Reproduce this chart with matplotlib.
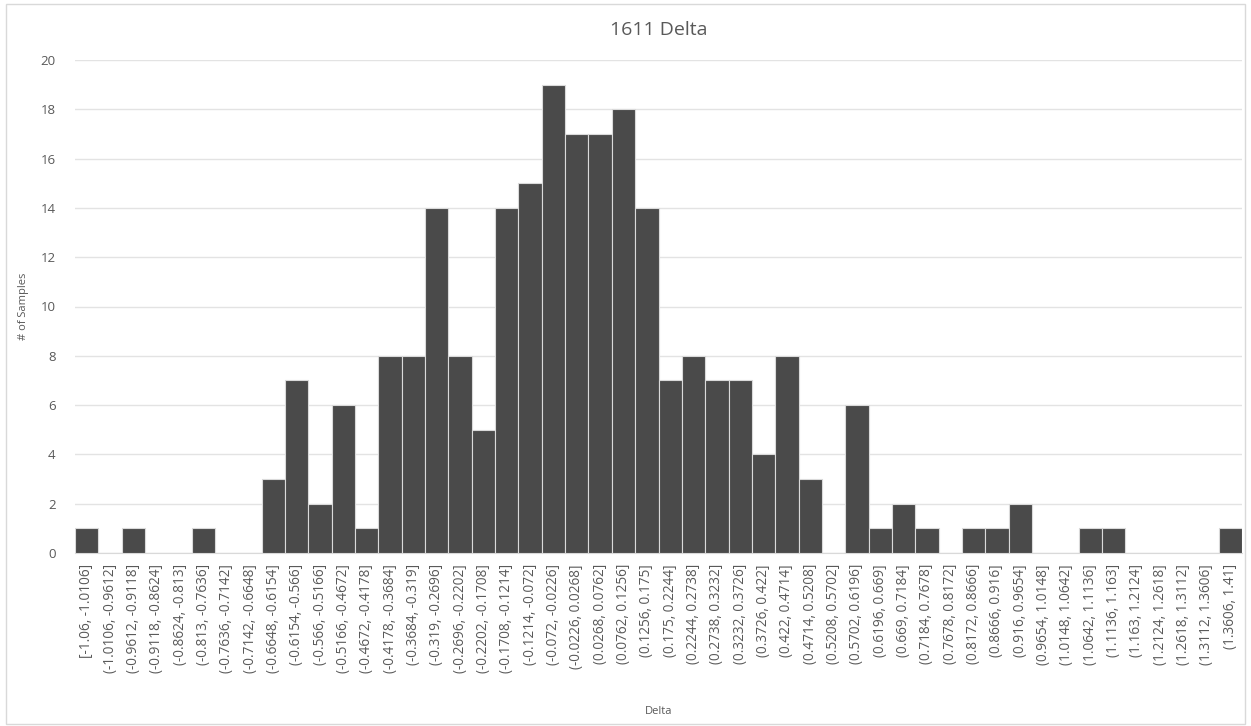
import matplotlib
matplotlib.use('Agg')
import matplotlib.pyplot as plt
from matplotlib.patches import Rectangle

plt.rcParams['font.family'] = ['Open Sans', 'DejaVu Sans']

# bin edges and counts
edges = [-1.06, -1.0106, -0.9612, -0.9118, -0.8624, -0.813, -0.7636, -0.7142, -0.6648,
         -0.6154, -0.566, -0.5166, -0.4672, -0.4178, -0.3684, -0.319, -0.2696, -0.2202,
         -0.1708, -0.1214, -0.072, -0.0226, 0.0268, 0.0762, 0.1256, 0.175, 0.2244, 0.2738,
         0.3232, 0.3726, 0.422, 0.4714, 0.5208, 0.5702, 0.6196, 0.669, 0.7184, 0.7678,
         0.8172, 0.8666, 0.916, 0.9654, 1.0148, 1.0642, 1.1136, 1.163, 1.2124, 1.2618,
         1.3112, 1.3606, 1.41]
counts = [1, 0, 1, 0, 0, 1, 0, 0, 3, 7, 2, 6, 1, 8, 8, 14, 8, 5, 14, 15, 19, 17, 17, 18, 14,
          7, 8, 7, 7, 4, 8, 3, 0, 6, 1, 2, 1, 0, 1, 1, 2, 0, 0, 1, 1, 0, 0, 0, 0, 1]

def fmt(v):
    return ('%g' % v)

labels = []
for i in range(len(counts)):
    left = '[' if i == 0 else '('
    labels.append('%s%s, %s]' % (left, fmt(edges[i]), fmt(edges[i + 1])))

fig = plt.figure(figsize=(12.51, 7.26), dpi=100)
fig.patches.append(Rectangle((0.005, 0.003), 0.99, 0.992, transform=fig.transFigure,
                             fill=False, edgecolor='#d9d9d9', linewidth=1))
ax = fig.add_axes([75 / 1251, 1 - 553 / 726, 1167 / 1251, 493 / 726])

x = list(range(len(counts)))
ax.bar(x, counts, width=1.0, color='#4a4a4a', edgecolor='#dadada', linewidth=0.8, zorder=3)
ax.set_xlim(-0.5, len(counts) - 0.5)
ax.set_ylim(0, 20)
ax.set_yticks(range(0, 21, 2))
ax.grid(axis='y', color='#e3e3e3', linewidth=1, zorder=0)
ax.set_xticks(x)
ax.set_xticklabels(labels, rotation=90, fontsize=9.8, color='#595959')
ax.tick_params(axis='y', labelsize=9.5, colors='#595959', length=0, pad=14)
ax.tick_params(axis='x', length=0, pad=8)
for s in ['top', 'right', 'left']:
    ax.spines[s].set_visible(False)
ax.spines['bottom'].set_color('#d9d9d9')

ax.set_title('1611 Delta', fontsize=14, color='#595959', pad=18)
ax.set_ylabel('# of Samples', fontsize=8, color='#595959', labelpad=8)
fig.text(0.5 * (75 + 1242) / 1251, 1 - 712 / 726, 'Delta', fontsize=8, color='#595959',
         ha='center', va='center')

fig.savefig('out.png', dpi=100)
